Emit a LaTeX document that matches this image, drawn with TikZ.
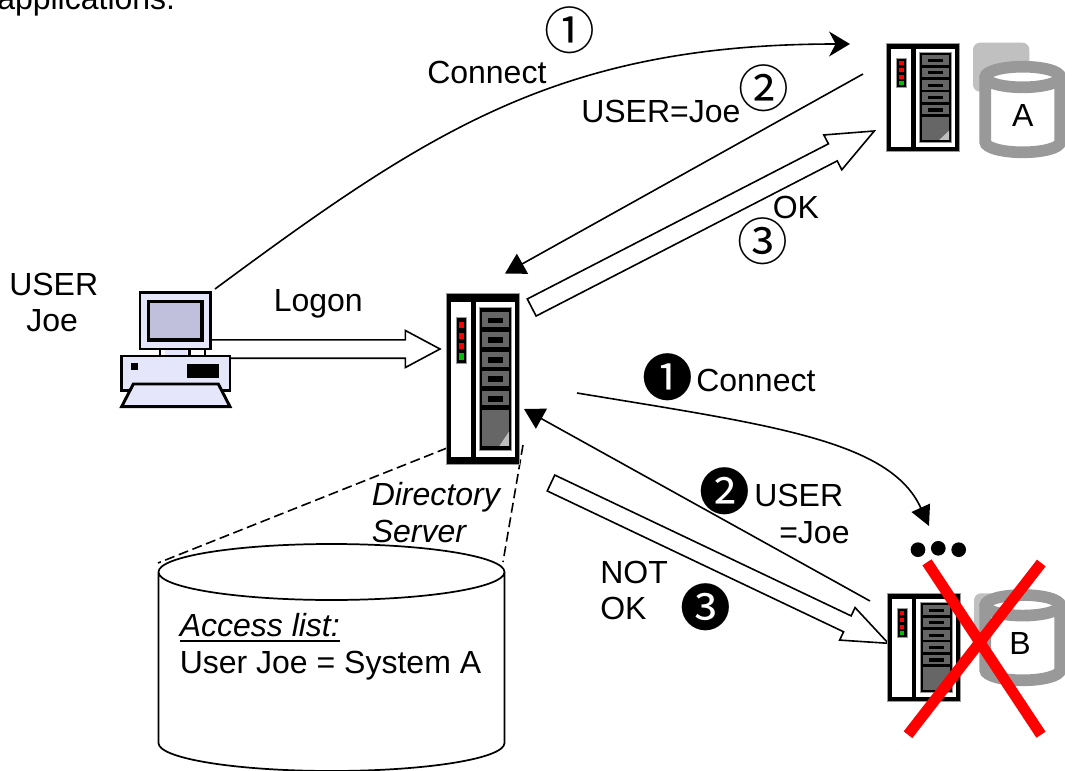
\documentclass[tikz,border=0pt]{standalone}
\usepackage{fontspec}
\setmainfont{Liberation Sans}
\newfontfamily\symfont{Noto Sans CJK SC}
\usetikzlibrary{calc,arrows.meta}
\definecolor{lav}{HTML}{E6E6FA}
\definecolor{scr}{HTML}{C0C0DC}
\definecolor{panel}{HTML}{666666}
\definecolor{dbgray}{HTML}{999999}
\definecolor{sqgray}{HTML}{C0C0C0}
\definecolor{ledgreen}{HTML}{00C000}
\tikzset{
  lbl/.style={anchor=base west,inner sep=0pt,font=\fontsize{24}{28}\selectfont},
  num/.style={inner sep=0pt,font=\symfont\fontsize{38}{38}\selectfont},
  conn/.style={line width=1.2pt,black},
  hollow/.style={line width=1.2pt,draw=black,fill=white,line join=miter,miter limit=8},
  dashln/.style={line width=1.2pt,dash pattern=on 7.5pt off 3.5pt},
  xstroke/.style={line width=8.2pt,red},
  dbwall/.style={line width=8.75pt,draw=dbgray,fill=white},
  blackdot/.style={circle,fill=black,inner sep=0pt,minimum size=11pt},
}
% server: origin at the top-left of the outer frame; args x y yscale
\newcommand\serverpic[3]{%
\begin{scope}[shift={(#1,#2)},xscale=1/3,yscale=#3/3]
  \draw[fill=black,draw=dbgray,line width=.4pt] (0,0) rectangle (218,513);
  \fill[white] (14,25) rectangle (73,490);
  \fill[white] (87,25) rectangle (205,490);
  \draw[fill=black,draw=dbgray,line width=.4pt] (98,42) rectangle (195,472);
  \foreach \t/\b in {57/102,115/160,175/220,233/278,292/335}{
    \fill[panel] (106,\t) rectangle (187,\b);
    \fill[black] (124,\t+16) rectangle (170,\t+33);
  }
  \fill[panel] (106,350) rectangle (187,458);
  \fill[lightgray] (158,458) -- (187,415) -- (187,458) -- cycle;
  \draw[fill=black,draw=dbgray,line width=.3pt] (29,73) rectangle (59,210);
  \foreach \t in {86,118,149}{\fill[red] (37,\t) rectangle (51,\t+19);}
  \fill[ledgreen] (37,180) rectangle (51,199);
\end{scope}}
% database with thick gray wall
\newcommand\dbpic[3]{% cx, top cy, bottom cy
  \draw[dbwall] (#1-37.5,#2) -- (#1-37.5,#3) arc[start angle=180,end angle=0,x radius=37.5,y radius=10.3] -- (#1+37.5,#2) arc[start angle=0,end angle=-180,x radius=37.5,y radius=10.3] arc[start angle=180,end angle=0,x radius=37.5,y radius=10.3];
}
% hollow block arrow between named coordinates: a, b, half shaft, half head, head length
\newcommand\hollowarrow[5]{%
  \coordinate (hp) at ($(#2)!#5!(#1)$);
  \draw[hollow] ($(#1)!#3!90:(#2)$) -- ($(hp)!#3!90:(#2)$) -- ($(hp)!#4!90:(#2)$) -- (#2)
     -- ($(hp)!#4!-90:(#2)$) -- ($(hp)!#3!-90:(#2)$) -- ($(#1)!#3!-90:(#2)$) -- cycle;
}
\newcommand\ulined[1]{\setbox0\hbox{#1}\rlap{\rule[-4pt]{\wd0}{1.5pt}}\box0 }
\begin{document}
\begin{tikzpicture}[x=0.75pt,y=-0.75pt]
\clip (0,0) rectangle (1065,771);
\fill[white] (0,0) rectangle (1065,771);

% connector end points
\coordinate (logonA) at (205,349);
\coordinate (logonB) at (440,349);
\coordinate (conA) at (215,289);
\coordinate (conB) at (850,44);
\coordinate (joeA) at (863,74);
\coordinate (joeB) at (505,273.5);
\coordinate (okA) at (531.7,307.5);
\coordinate (okB) at (874.3,131);
\coordinate (con2A) at (577,393);
\coordinate (con2B) at (929,526);
\coordinate (joe2A) at (870,601);
\coordinate (joe2B) at (524,409);
\coordinate (notA) at (551,483);
\coordinate (notB) at (888.3,643.3);
\coordinate (dashLa) at (447,448);
\coordinate (dashLb) at (158,563);
\coordinate (dashRa) at (523,445);
\coordinate (dashRb) at (503,562);

\node[lbl] (title) at (-3,10) {applications.};

% Logon arrow runs under the computer
\hollowarrow{logonA}{logonB}{6.9pt}{13.9pt}{26pt}

% Computer
\begin{scope}[shift={(100,280)},scale=1/3]
  \fill[lav] (195,207) rectangle (262,228);
  \draw[line width=2pt] (180,207) -- (180,228) (268,207) -- (268,228);
  \draw[fill=lav,line width=2pt] (65,228) rectangle (390,332);
  \fill[black] (93,248) rectangle (114,270);
  \fill[black] (262,252) rectangle (357,294);
  \draw[fill=lav,line width=2.2pt,line join=miter] (100,312) -- (355,312) -- (390,380) -- (65,380) -- cycle;
  \draw[fill=lav,line width=2.2pt] (120,38) rectangle (332,207);
  \draw[fill=scr,line width=2.4pt] (146,65) rectangle (306,180);
\end{scope}

% Connect 1
\draw[conn,-{Stealth[length=21pt*.75,width=25pt*.75,inset=5pt]}] (conA) .. controls (430,130) and (560,44) .. (conB);
% USER=Joe 2
\draw[conn,-{Triangle[length=15pt,width=17pt]}] (joeA) -- (joeB);
\hollowarrow{okA}{okB}{7.2pt}{14.7pt}{35pt}
% Connect 1 black
\draw[conn,-{Triangle[length=15pt,width=15pt]}] (con2A) .. controls (770,425) and (890,440) .. (con2B);
\draw[conn,-{Triangle[length=15pt,width=17pt]}] (joe2A) -- (joe2B);
\hollowarrow{notA}{notB}{6.6pt}{13.5pt}{34pt}

% Dashed zoom lines
\draw[dashln] (dashLa) -- (dashLb);
\draw[dashln] (dashRa) -- (dashRb);

% Access list cylinder
\draw[line width=1.3pt,fill=white] (158.5,572) -- (158.5,743) arc[start angle=180,end angle=0,x radius=173,y radius=28] -- (504.5,572) arc[start angle=0,end angle=-180,x radius=173,y radius=28] arc[start angle=180,end angle=0,x radius=173,y radius=28];

% Servers
\serverpic{446.7}{293.3}{1}
\serverpic{886.7}{43.3}{0.632}
\serverpic{887.3}{593.3}{0.632}

% Database A
\fill[sqgray,rounded corners=7pt*.75] (973,42.7) rectangle (1029.3,91.7);
\dbpic{1022.7}{77}{142}
\node[lbl,anchor=base] (dbA) at (1022.7,126) {A};

% Database B
\fill[sqgray,rounded corners=7pt*.75] (974,593.3) rectangle (1030,641);
\dbpic{1022.7}{605.3}{670}
\node[lbl,anchor=base] (dbB) at (1020,654) {B};

% Red X
\draw[xstroke] (927,562.3) -- (1041,734.7);
\draw[xstroke] (1041.3,563) -- (908,734.7);

% Dots
\node[blackdot] (d1) at (918,549.7) {};
\node[blackdot] (d2) at (938.3,548.3) {};
\node[blackdot] (d3) at (958.7,549.7) {};

% Labels
\node[lbl] (u1) at (9,295) {USER};
\node[lbl] (u2) at (26,331) {Joe};
\node[lbl] (logon) at (273.5,311) {Logon};
\node[lbl] (c1) at (427,83) {Connect};
\node[lbl] (uj) at (581,122) {USER=Joe};
\node[lbl] (ok1) at (772.5,218) {OK};
\node[lbl] (c2) at (696,391) {Connect};
\node[lbl] (uj2a) at (754,506.7) {USER};
\node[lbl] (uj2b) at (779,543) {=Joe};
\node[lbl] (not1) at (600,583) {NOT};
\node[lbl] (not2) at (600,619) {OK};
\node[lbl,font=\fontsize{24}{28}\selectfont\itshape] (dir1) at (371.5,505.5) {Directory};
\node[lbl,font=\fontsize{24}{28}\selectfont\itshape] (dir2) at (371.5,542) {Server};
\node[lbl,font=\fontsize{24}{28}\selectfont\itshape] (acc) at (179.5,636.5) {\ulined{Access list:}};
\node[lbl] (usr) at (179.5,673) {User Joe = System A};

% Step numbers
\node[num] (n1) at (570,30) {①};
\node[num] (n2) at (764,88.5) {②};
\node[num] (n3) at (763,241) {③};
\node[num] (m1) at (668,377) {❶};
\node[num] (m2) at (725,491) {❷};
\node[num] (m3) at (705.7,607) {❸};
\end{tikzpicture}
\end{document}
